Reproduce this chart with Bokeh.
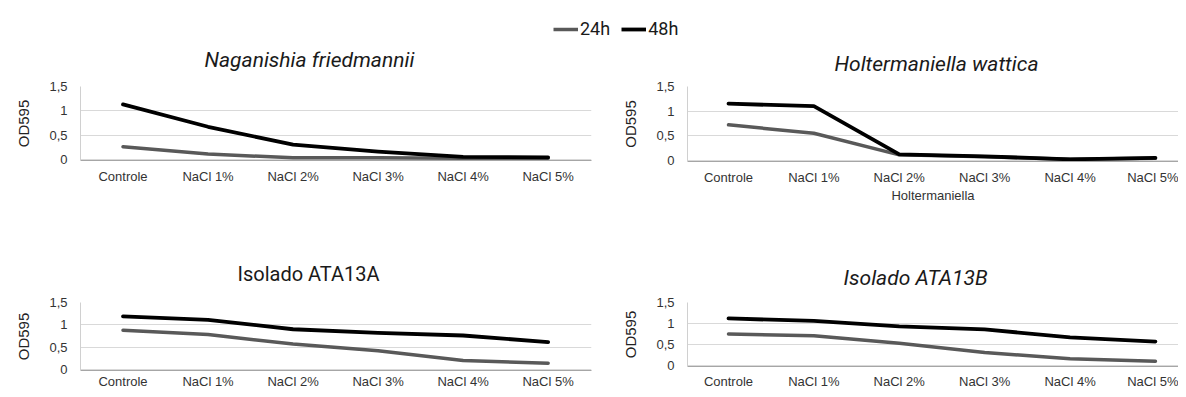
from bokeh.plotting import figure
from bokeh.models import Range1d, FixedTicker, Legend, LegendItem, Title
from bokeh.layouts import column, row
from bokeh.embed import file_html
from bokeh.resources import INLINE

# ---------------- data ----------------
categories = ["Controle", "NaCl 1%", "NaCl 2%", "NaCl 3%", "NaCl 4%", "NaCl 5%"]
series_names = ["24h", "48h"]

naganishia_24h = [0.26, 0.11, 0.03, 0.03, 0.02, 0.02]
naganishia_48h = [1.13, 0.67, 0.30, 0.16, 0.05, 0.04]

holtermaniella_24h = [0.72, 0.55, 0.11, 0.07, 0.02, 0.04]
holtermaniella_48h = [1.15, 1.10, 0.12, 0.08, 0.02, 0.05]

ata13a_24h = [0.88, 0.78, 0.57, 0.42, 0.20, 0.14]
ata13a_48h = [1.19, 1.11, 0.90, 0.82, 0.76, 0.61]

ata13b_24h = [0.75, 0.71, 0.53, 0.31, 0.16, 0.10]
ata13b_48h = [1.12, 1.06, 0.93, 0.86, 0.67, 0.57]

y_ticks = [0, 0.5, 1, 1.5]
y_tick_labels = ["0", "0,5", "1", "1,5"]

# ---------------- style ----------------
C24 = "#595959"
C48 = "#000000"
TICK_FONT = "Liberation Sans"
TITLE_FONT = "Roboto"


def make_panel(title, italic, title_size, title_offset, title_standoff,
               s24, s48, fw, fh, left, right, top, bottom,
               xstart, xend, xlabel=None, xstandoff=8):
    p = figure(frame_width=fw, frame_height=fh, output_backend="svg",
               toolbar_location=None, title=None,
               x_range=Range1d(xstart, xend), y_range=Range1d(-0.025, 1.5),
               min_border_left=left, min_border_right=right,
               min_border_top=top, min_border_bottom=bottom,
               outline_line_color=None, background_fill_color=None,
               border_fill_color=None)
    idx = list(range(len(categories)))
    p.line(idx, s24, line_color=C24, line_width=3.5, line_cap="round", line_join="round")
    p.line(idx, s48, line_color=C48, line_width=3.8, line_cap="round", line_join="round")

    p.add_layout(Title(text=title, align="left", offset=title_offset,
                       standoff=title_standoff,
                       text_font=TITLE_FONT,
                       text_font_style="italic" if italic else "normal",
                       text_font_size=title_size, text_color="#1a1a1a"), "above")

    # x axis
    xa = p.xaxis[0]
    xa.ticker = FixedTicker(ticks=idx)
    xa.major_label_overrides = {i: c for i, c in enumerate(categories)}
    xa.major_tick_line_color = None
    xa.major_tick_out = 0
    xa.major_tick_in = 0
    xa.minor_tick_line_color = None
    xa.minor_tick_out = 0
    xa.major_label_standoff = xstandoff
    xa.major_label_text_font = TICK_FONT
    xa.major_label_text_font_size = "13px"
    xa.major_label_text_color = "#333333"
    xa.axis_line_color = "#a6a6a6"
    xa.axis_line_width = 1
    if xlabel:
        xa.axis_label = xlabel
        xa.axis_label_text_font = TICK_FONT
        xa.axis_label_text_font_size = "13px"
        xa.axis_label_text_font_style = "normal"
        xa.axis_label_text_color = "#333333"
        xa.axis_label_standoff = 0

    # y axis
    ya = p.yaxis[0]
    ya.ticker = FixedTicker(ticks=y_ticks)
    ya.major_label_overrides = {t: l for t, l in zip(y_ticks, y_tick_labels)}
    ya.major_tick_line_color = None
    ya.major_tick_out = 0
    ya.major_tick_in = 0
    ya.minor_tick_line_color = None
    ya.minor_tick_out = 0
    ya.major_label_standoff = 13
    ya.major_label_text_font = TICK_FONT
    ya.major_label_text_font_size = "13px"
    ya.major_label_text_color = "#333333"
    ya.axis_line_color = "#d0d0d0"
    ya.axis_label = "OD595"
    ya.axis_label_text_font = TICK_FONT
    ya.axis_label_text_font_size = "15px"
    ya.axis_label_text_font_style = "normal"
    ya.axis_label_text_color = "#222222"
    ya.axis_label_standoff = 14

    p.xgrid.grid_line_color = None
    p.ygrid.ticker = FixedTicker(ticks=y_ticks)
    p.ygrid.grid_line_color = "#d9d9d9"
    p.ygrid.grid_line_width = 1
    return p


p1 = make_panel("Naganishia friedmannii", True, "21px", 124, 29,
                naganishia_24h, naganishia_48h,
                fw=511, fh=74, left=80, right=28, top=57, bottom=83,
                xstart=-0.5, xend=5.51)
p2 = make_panel("Holtermaniella wattica", True, "21px", 147, 21,
                holtermaniella_24h, holtermaniella_48h,
                fw=491, fh=75, left=67, right=0, top=57, bottom=82,
                xstart=-0.48, xend=5.27, xlabel="Holtermaniella")

p3 = make_panel("Isolado ATA13A", False, "20px", 157, 33,
                ata13a_24h, ata13a_48h,
                fw=511, fh=68, left=80, right=28, top=59, bottom=18,
                xstart=-0.5, xend=5.51, xstandoff=3)
p4 = make_panel("Isolado ATA13B", True, "21px", 156, 26,
                ata13b_24h, ata13b_48h,
                fw=491, fh=64, left=67, right=0, top=59, bottom=22,
                xstart=-0.48, xend=5.27, xstandoff=7)

# legend strip
leg = figure(width=1177, height=39, output_backend="svg", toolbar_location=None,
             x_range=Range1d(0, 1), y_range=Range1d(0, 1),
             min_border=0, outline_line_color=None,
             background_fill_color=None, border_fill_color=None)
leg.axis.visible = False
leg.grid.visible = False
# renderers placed outside the visible range: only their legend glyphs show
r24 = leg.line([5, 6], [5, 5], line_color=C24, line_width=3.5)
r48 = leg.line([5, 6], [5, 5], line_color=C48, line_width=3.8)
legend = Legend(items=[LegendItem(label=series_names[0], renderers=[r24]),
                       LegendItem(label=series_names[1], renderers=[r48])],
                orientation="horizontal", location=(553, 0),
                label_text_font=TITLE_FONT, label_text_font_size="18px",
                label_text_color="#1a1a1a",
                glyph_width=25, glyph_height=20, label_standoff=2, spacing=11,
                padding=0, margin=0, border_line_color=None,
                background_fill_alpha=0)
leg.add_layout(legend, "center")

top_row = row(p1, p2, spacing=0, margin=(-10, 0, 0, 0))
bottom_row = row(p3, p4, spacing=0)
layout = column(leg, top_row, bottom_row, spacing=0)

open("out.html", "w").write(file_html(layout, INLINE))
